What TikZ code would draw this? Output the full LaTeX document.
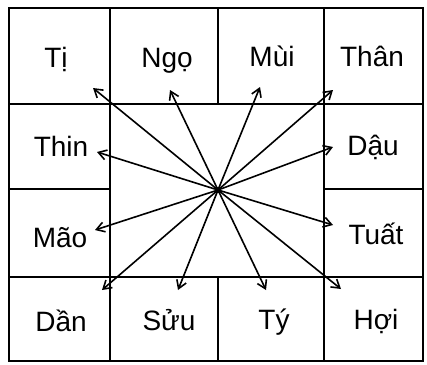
\documentclass[tikz,border=0pt]{standalone}
\usepackage{fontspec}
\setmainfont{Liberation Sans}
\usetikzlibrary{arrows.meta}

\begin{document}
\begin{tikzpicture}[x=1pt, y=-1pt,
    khung/.style={line width=1.8pt},
    chi/.style={anchor=base, inner sep=0pt, font=\fontsize{28}{30}\selectfont},
    tia/.style={line width=1.6pt, -{Straight Barb[length=8pt, width=10pt, line width=1.6pt]}}]

  \useasboundingbox (0,0) rectangle (427,364);

  % khung ngoài và các đường chia ô
  \draw[khung] (9,8) rectangle (423,361);
  \draw[khung] (9,104) -- (423,104);
  \draw[khung] (9,277) -- (423,277);
  \draw[khung] (9,189) -- (110,189);
  \draw[khung] (324,189) -- (423,189);
  \draw[khung] (110,8) -- (110,361);
  \draw[khung] (324,8) -- (324,361);
  \draw[khung] (218,8) -- (218,104);
  \draw[khung] (218,277) -- (218,361);

  % mười hai chi
  \node[chi] (Ti)   at (56,67)   {Tị};
  \node[chi] (Ngo)  at (167,67)  {Ngọ};
  \node[chi] (Mui)  at (272,66)  {Mùi};
  \node[chi] (Than) at (372,66)  {Thân};
  \node[chi] (Thin) at (61,156)  {Thin};
  \node[chi] (Dau)  at (373,155) {Dậu};
  \node[chi] (Mao)  at (60,247)  {Mão};
  \node[chi] (Tuat) at (376,244) {Tuất};
  \node[chi] (Dan)  at (61,331)  {Dần};
  \node[chi] (Suu)  at (169,330) {Sửu};
  \node[chi] (Ty)   at (274,329) {Tý};
  \node[chi] (Hoi)  at (376,329) {Hợi};

  % tâm và đầu mũi tên
  \coordinate (tam) at (218,190);
  \coordinate (tTi)   at (93,88);
  \coordinate (tNgo)  at (170,90);
  \coordinate (tMui)  at (260,87);
  \coordinate (tThan) at (333,90);
  \coordinate (tThin) at (97,152);
  \coordinate (tDau)  at (333,147);
  \coordinate (tMao)  at (95,230);
  \coordinate (tTuat) at (333,225);
  \coordinate (tDan)  at (102,290);
  \coordinate (tSuu)  at (178,290);
  \coordinate (tTy)   at (266,290);
  \coordinate (tHoi)  at (341,289);

  \foreach \d in {tTi,tNgo,tMui,tThan,tThin,tDau,tMao,tTuat,tDan,tSuu,tTy,tHoi}
    \draw[tia] (tam) -- (\d);
  \fill (tam) circle (3pt);

\end{tikzpicture}
\end{document}
